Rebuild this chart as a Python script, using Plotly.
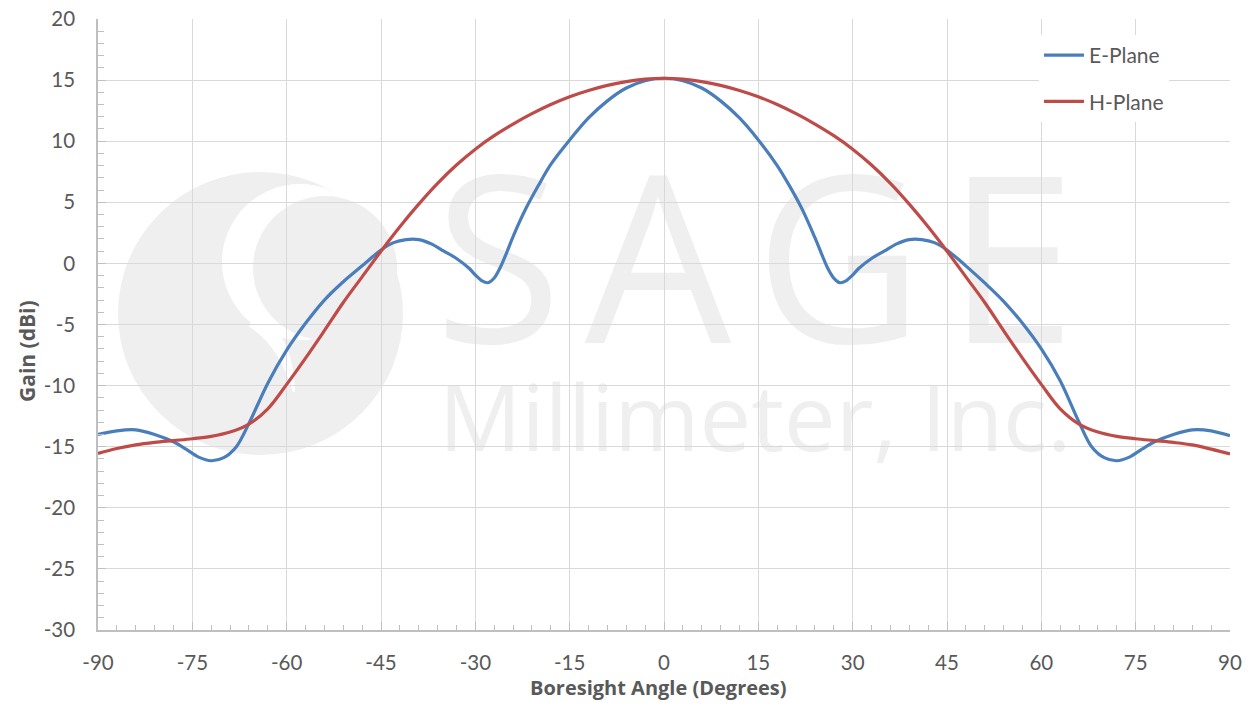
import plotly.graph_objects as go

# ---- data ----
e_angle = [-90, -87, -84, -81, -78, -76, -74, -72, -70, -68, -66, -63, -60, -57, -54, -51, -48,
           -45, -43, -41, -39, -37, -35, -33, -31, -30, -29, -28, -27, -26, -25, -24, -22, -20,
           -18, -15, -12, -9, -6, -3, 0,
           3, 6, 9, 12, 15, 18, 20, 22, 24, 25, 26, 27, 28, 29, 30, 31, 33, 35, 37, 39, 41, 43,
           45, 48, 51, 54, 57, 60, 63, 66, 68, 70, 72, 74, 76, 78, 81, 84, 87, 90]
e_gain = [-14.0, -13.7, -13.62, -14.0, -14.6, -15.2, -15.85, -16.15, -15.9, -15.0, -13.1, -9.8,
          -7.1, -4.9, -3.0, -1.5, -0.2,
          1.1, 1.7, 1.95, 1.95, 1.6, 1.0, 0.4, -0.4, -0.95, -1.4, -1.58, -1.2, -0.3, 0.9, 2.2,
          4.45, 6.35, 8.1, 10.1, 11.9, 13.3, 14.35, 14.95, 15.15,
          14.95, 14.35, 13.3, 11.9, 10.1, 8.0, 6.3, 4.4, 2.1, 0.85, -0.35, -1.2, -1.58, -1.4, -0.95,
          -0.4, 0.4, 1.0, 1.6, 1.95, 1.95, 1.7, 1.1, -0.2, -1.6, -3.1, -4.9, -7.0, -9.6, -13.0,
          -15.0, -15.9, -16.15, -15.85, -15.2, -14.6, -14.0, -13.62, -13.7, -14.1]

h_angle = [-90, -87, -84, -81, -78, -75, -72, -69, -66, -63, -60, -57, -54, -51, -48, -45, -42, -39,
           -36, -33, -30, -27, -24, -21, -18, -15, -12, -9, -6, -3, 0,
           3, 6, 9, 12, 15, 18, 21, 24, 27, 30, 33, 36, 39, 42, 45, 48, 51, 54, 57, 60, 63, 66,
           69, 72, 75, 78, 81, 84, 87, 90]
h_gain = [-15.55, -15.15, -14.85, -14.65, -14.5, -14.35, -14.15, -13.8, -13.15, -11.9, -9.9, -7.75,
          -5.5, -3.2, -1.1, 1.0, 3.0, 4.85, 6.55, 8.05, 9.35, 10.45, 11.4, 12.25, 13.0, 13.64, 14.15,
          14.57, 14.88, 15.08, 15.15,
          15.08, 14.88, 14.57, 14.15, 13.64, 13.0, 12.25, 11.4, 10.45, 9.35, 8.05, 6.55, 4.85, 3.0,
          1.0, -1.1, -3.2, -5.5, -7.75, -9.9, -11.9, -13.15, -13.8, -14.15, -14.35, -14.5, -14.65,
          -14.85, -15.2, -15.6]

x_ticks = [-90, -75, -60, -45, -30, -15, 0, 15, 30, 45, 60, 75, 90]
y_ticks = [-30, -25, -20, -15, -10, -5, 0, 5, 10, 15, 20]

BLUE = "#4a7ebb"
RED = "#be4b48"
GRID = "#d9d9d9"
AXIS = "#bfbfbf"
TXT = "#595959"
WM = "#efefef"
FONT = "Lato, 'Open Sans', sans-serif"
TFONT = "'Open Sans', Lato, sans-serif"

# page body has an 8px margin; figure sized to fit the 1252x709 window exactly
OFF = 8
FIG_W, FIG_H = 1252 - 2 * OFF, 709 - 2 * OFF
# plot-area geometry in window pixels (used only for placing decorations)
L, R, T, B = 98, 1230, 19, 630


def px(x):
    return (x - L) / (R - L)


def py(y):
    return (B - y) / (B - T)


fig = go.Figure()
fig.add_trace(go.Scatter(x=e_angle, y=e_gain, name="E-Plane", mode="lines",
                         line=dict(color=BLUE, width=3.2, shape="spline", smoothing=0.9),
                         legendgroup="e"))
fig.add_trace(go.Scatter(x=h_angle, y=h_gain, name="H-Plane", mode="lines",
                         line=dict(color=RED, width=3.2, shape="spline", smoothing=1.0),
                         legendgroup="h"))

shapes = []
# watermark logo
shapes.append(dict(type="circle", xref="paper", yref="paper", layer="below",
                   x0=px(118), x1=px(403), y0=py(455), y1=py(172),
                   fillcolor=WM, line=dict(width=0)))
shapes.append(dict(type="circle", xref="paper", yref="paper", layer="below",
                   x0=px(222), x1=px(378), y0=py(340), y1=py(184),
                   fillcolor="white", line=dict(width=0)))
shapes.append(dict(type="circle", xref="paper", yref="paper", layer="below",
                   x0=px(253), x1=px(397), y0=py(340), y1=py(196),
                   fillcolor=WM, line=dict(width=0)))
tail = "M {:.4f},{:.4f} Q {:.4f},{:.4f} {:.4f},{:.4f} Q {:.4f},{:.4f} {:.4f},{:.4f} Z".format(
    px(255), py(318), px(292), py(330), px(294), py(392),
    px(280), py(345), px(250), py(326))
shapes.append(dict(type="path", xref="paper", yref="paper", layer="below", path=tail,
                   fillcolor="white", line=dict(color="white", width=2)))
# watermark text
HS = "\u200a"
shapes.append(dict(type="rect", xref="paper", yref="paper", layer="below",
                   x0=px(430), x1=px(1080), y0=py(374), y1=py(164),
                   line=dict(width=0), fillcolor="rgba(0,0,0,0)",
                   label=dict(text=HS.join("SAGE"), font=dict(family=TFONT, size=232, color=WM),
                              textposition="middle center")))
shapes.append(dict(type="rect", xref="paper", yref="paper", layer="below",
                   x0=px(430), x1=px(1080), y0=py(471), y1=py(371),
                   line=dict(width=0), fillcolor="rgba(0,0,0,0)",
                   label=dict(text="Millimeter, Inc.", font=dict(family=TFONT, size=92, color=WM),
                              textposition="middle center")))

fig.update_layout(
    width=FIG_W, height=FIG_H,
    margin=dict(l=L - OFF, r=FIG_W - (R - OFF), t=T - OFF, b=FIG_H - (B - OFF), autoexpand=False),
    paper_bgcolor="white", plot_bgcolor="white",
    font=dict(family=FONT, color=TXT, size=20),
    shapes=shapes,
    showlegend=True,
    legend=dict(x=px(1039), y=py(35), xanchor="left", yanchor="top",
                bgcolor="white", borderwidth=0, font=dict(family=FONT, size=21, color=TXT),
                traceorder="grouped", tracegroupgap=16, itemwidth=40),
    annotations=[
        dict(text="<b>Boresight Angle (Degrees)</b>", xref="paper", yref="paper",
             x=px(658), y=py(687), xanchor="center", yanchor="middle", showarrow=False,
             font=dict(family=TFONT, size=20, color=TXT)),
        dict(text="<b>Gain (dBi)</b>", xref="paper", yref="paper", textangle=-90,
             x=px(27), y=py(351), xanchor="center", yanchor="middle", showarrow=False,
             font=dict(family=TFONT, size=21, color=TXT)),
    ],
)

fig.update_xaxes(range=[-90, 90], tickvals=x_ticks, ticktext=[str(v) for v in x_ticks],
                 showgrid=True, gridcolor=GRID, gridwidth=1.3, zeroline=False,
                 showline=True, linecolor=AXIS, linewidth=1.5,
                 ticks="inside", ticklen=8, tickcolor=AXIS, ticklabelstandoff=14,
                 ticklabeloverflow="allow",
                 tickfont=dict(family=FONT, size=20.5, color=TXT),
                 minor=dict(dtick=3, tick0=0, ticks="inside", ticklen=5, tickcolor=AXIS, showgrid=False))
fig.update_yaxes(range=[-30, 20], tickvals=y_ticks, ticktext=[str(v) for v in y_ticks],
                 showgrid=True, gridcolor=GRID, gridwidth=1.3, zeroline=False,
                 showline=True, linecolor=AXIS, linewidth=1.5,
                 ticks="inside", ticklen=8, tickcolor=AXIS, ticklabelstandoff=17,
                 ticklabeloverflow="allow",
                 tickfont=dict(family=FONT, size=20.5, color=TXT),
                 minor=dict(dtick=1, tick0=0, ticks="inside", ticklen=6, tickcolor=AXIS, showgrid=False))

fig.write_html("out.html")
